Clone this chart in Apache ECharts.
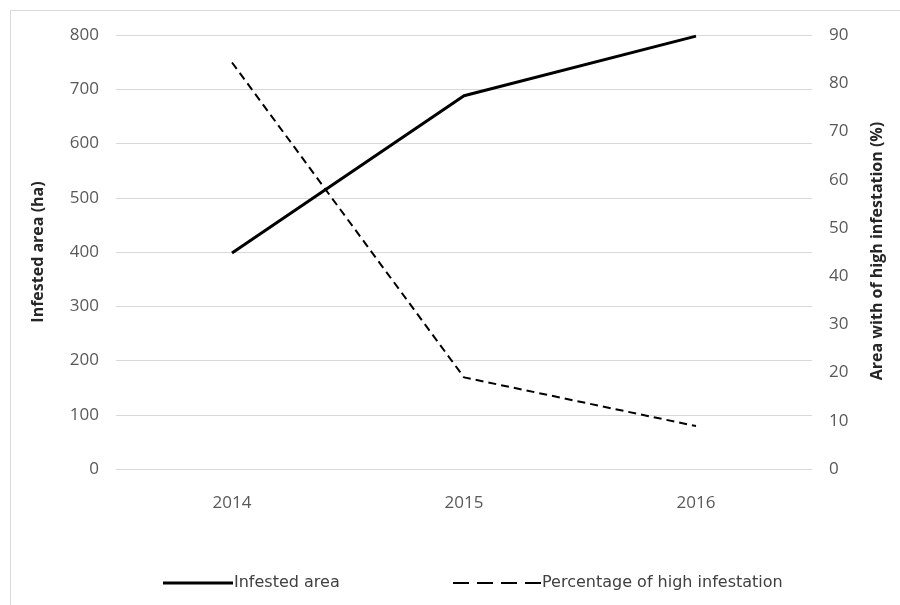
<!DOCTYPE html>
<html>
<head>
<meta charset="utf-8">
<script src="https://cdn.jsdelivr.net/npm/echarts@6/dist/echarts.min.js"></script>
<style>
  html, body { margin: 0; padding: 0; background: #fff; }
  #chart { width: 900px; height: 605px; }
</style>
</head>
<body>
<div id="chart"></div>
<script>
// Years on the category axis
const years = ['2014', '2015', '2016'];
// Infested area in hectares (left axis)
const infestedArea = [398, 688, 798];
// Share of the infested area with high infestation, % (right axis)
const highInfestationPct = [84.3, 19, 8.9];

const seriesNames = ['Infested area', 'Percentage of high infestation'];
const leftTitle = 'Infested area (ha)';
const rightTitle = 'Area with of high infestation (%)';

const chart = echarts.init(document.getElementById('chart'));
const tickFont = { color: '#595959', fontSize: 17, fontFamily: 'Open Sans' };
const titleFont = { fill: '#262626', fontSize: 16, fontWeight: 'bold', fontFamily: 'Open Sans' };
const legendText = { color: '#404040', fontSize: 16, fontFamily: 'DejaVu Sans', padding: [0, 0, 0, -4] };

// Legend keys: a solid bar and a four-dash bar
const solidKey = 'path://M0,0H70V3H0Z';
const dashedKey = 'path://M0,0H16V2H0Z M24,0H40V2H24Z M48,0H64V2H48Z M72,0H88V2H72Z';

chart.setOption({
  animation: false,
  backgroundColor: '#fff',
  grid: { left: 116, right: 88, top: 35, bottom: 136 },
  legend: [
    {
      left: 158, top: 570, itemWidth: 70, itemHeight: 3,
      textStyle: legendText,
      data: [{ name: seriesNames[0], icon: solidKey }]
    },
    {
      left: 448, top: 570, itemWidth: 88, itemHeight: 2,
      textStyle: legendText,
      data: [{ name: seriesNames[1], icon: dashedKey }]
    }
  ],
  xAxis: {
    type: 'category',
    data: years,
    axisLine: { show: false },
    axisTick: { show: false },
    axisLabel: Object.assign({ margin: 26 }, tickFont)
  },
  yAxis: [
    {
      type: 'value', min: 0, max: 800, interval: 100,
      axisLine: { show: false }, axisTick: { show: false },
      axisLabel: Object.assign({ margin: 17 }, tickFont),
      splitLine: { lineStyle: { color: '#d9d9d9', width: 1 } }
    },
    {
      type: 'value', min: 0, max: 90, interval: 10,
      axisLine: { show: false }, axisTick: { show: false },
      axisLabel: Object.assign({ margin: 17 }, tickFont),
      splitLine: { show: false }
    }
  ],
  series: [
    {
      name: seriesNames[0], type: 'line', yAxisIndex: 0,
      data: infestedArea, symbol: 'none',
      lineStyle: { color: '#000', width: 3 },
      itemStyle: { color: '#000' }
    },
    {
      name: seriesNames[1], type: 'line', yAxisIndex: 1,
      data: highInfestationPct, symbol: 'none',
      lineStyle: { color: '#000', width: 2, type: [8, 5] },
      itemStyle: { color: '#000' }
    }
  ],
  graphic: [
    {
      type: 'rect', shape: { x: 10.5, y: 10.5, width: 900, height: 600 },
      style: { fill: 'none', stroke: '#d9d9d9', lineWidth: 1 }, silent: true, z: -1
    },
    {
      type: 'text', x: 38, y: 252, rotation: Math.PI / 2,
      style: Object.assign({ text: leftTitle, align: 'center', verticalAlign: 'middle' }, titleFont)
    },
    {
      type: 'text', x: 877, y: 251, rotation: Math.PI / 2,
      style: Object.assign({ text: rightTitle, align: 'center', verticalAlign: 'middle' }, titleFont)
    }
  ]
});
</script>
</body>
</html>
